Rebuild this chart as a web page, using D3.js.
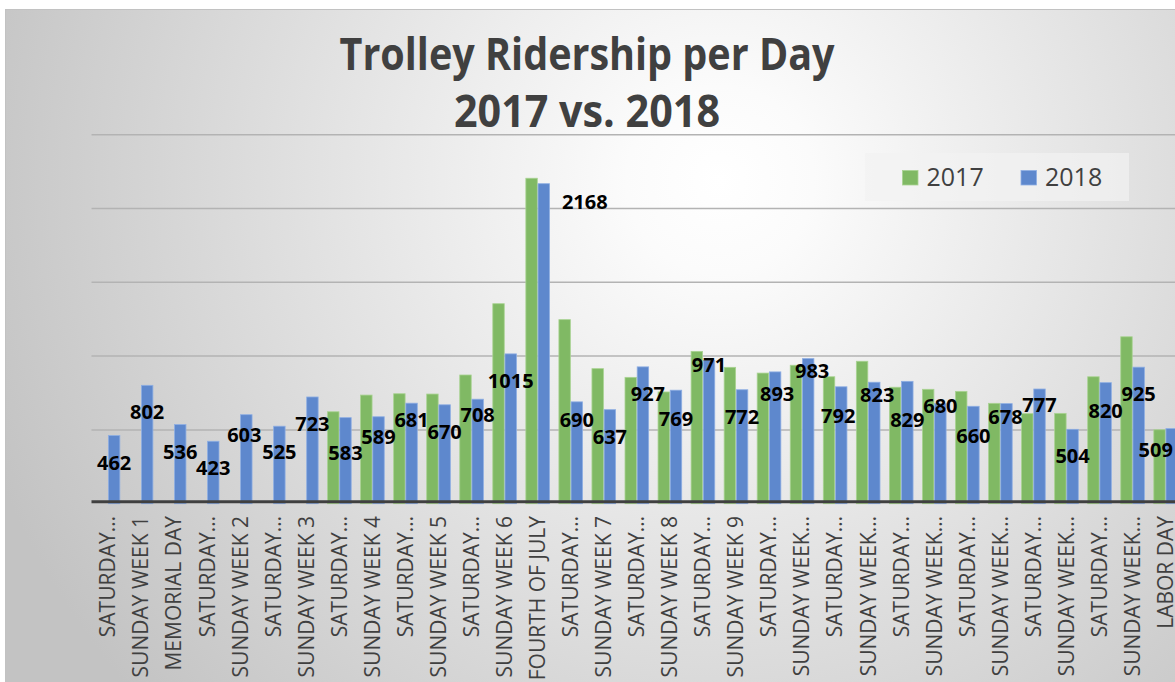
<!DOCTYPE html>
<html>
<head>
<meta charset="utf-8">
<script src="https://cdn.jsdelivr.net/npm/d3@7"></script>
<style>
  html, body { margin: 0; padding: 0; background: #fff; }
  svg { display: block; font-family: "Open Sans", sans-serif; }
</style>
</head>
<body>
<div id="chart"></div>
<script>
// Categories (as shown on the axis, truncated the way the original is)
const days = [
  "SATURDAY…", "SUNDAY WEEK 1", "MEMORIAL DAY", "SATURDAY…", "SUNDAY WEEK 2",
  "SATURDAY…", "SUNDAY WEEK 3", "SATURDAY…", "SUNDAY WEEK 4", "SATURDAY…",
  "SUNDAY WEEK 5", "SATURDAY…", "SUNDAY WEEK 6", "FOURTH OF JULY", "SATURDAY…",
  "SUNDAY WEEK 7", "SATURDAY…", "SUNDAY WEEK 8", "SATURDAY…", "SUNDAY WEEK 9",
  "SATURDAY…", "SUNDAY WEEK…", "SATURDAY…", "SUNDAY WEEK…", "SATURDAY…",
  "SUNDAY WEEK…", "SATURDAY…", "SUNDAY WEEK…", "SATURDAY…", "SUNDAY WEEK…",
  "SATURDAY…", "SUNDAY WEEK…", "LABOR DAY"
];

// 2017 riders (no bars for the first 7 days)
const riders2017 = [
  null, null, null, null, null, null, null, 623, 736, 745,
  743, 872, 1355, 2205, 1247, 915, 856, 757, 1032, 924,
  885, 938, 860, 965, 789, 775, 761, 680, 610, 612,
  860, 1131, 501
];

// 2018 riders (data labels)
const riders2018 = [
  462, 802, 536, 423, 603, 525, 723, 583, 589, 681,
  670, 708, 1015, 2168, 690, 637, 927, 769, 971, 772,
  893, 983, 792, 823, 829, 680, 660, 678, 777, 504,
  820, 925, 509
];

const seriesNames = ["2017", "2018"];
const yTicks = [500, 1000, 1500, 2000, 2500];

// label nudges (px) from the default spot under the top of the 2018 bar
const labelDx = [0, 0, 0, 0, -2, 0, 0, 0, 0, 0, 0, 0, 0, 41, 0, 0, 5, 0, 0, 0, 2, 4, -3, 3, 0, 0, 0, -1, 0, 0, 0, 0, -16];
const labelDy = [0, 0, 0, 0, -7, -1, 0, 8, -7, -10, 0, -11, 0, -9, -9, 0, 0, 2, -22, 0, -5, -15, 2, -14, 12, -24, 3, -14, -11, 0, 1, 0, -6];

const colors = { "2017": "#80b964", "2018": "#5e88cd" };
const strokes = { "2017": "#a9d392", "2018": "#8eaee3" };

const W = 1175, H = 682;
const plot = { left: 91.5, right: 91.5 + 33 * 33.05, top: 134.7, bottom: 503.7 };

const svg = d3.select("#chart").append("svg")
  .attr("width", W)
  .attr("height", H);

// background
const defs = svg.append("defs");
const grad = defs.append("radialGradient")
  .attr("id", "bg")
  .attr("gradientUnits", "userSpaceOnUse")
  .attr("cx", 720).attr("cy", 180).attr("r", 780);
grad.append("stop").attr("offset", "0").attr("stop-color", "#ffffff");
grad.append("stop").attr("offset", "0.12").attr("stop-color", "#fbfbfb");
grad.append("stop").attr("offset", "1").attr("stop-color", "#c3c3c3");

svg.append("rect")
  .attr("x", 5.5).attr("y", 9.5)
  .attr("width", W).attr("height", H)
  .attr("fill", "url(#bg)")
  .attr("stroke", "#c2c2c2")
  .attr("stroke-width", 1);

// scales
const x0 = d3.scaleBand().domain(d3.range(days.length)).range([plot.left, plot.right]).padding(0);
const x1 = d3.scaleBand().domain(seriesNames).range([4.7, 28.35]).paddingInner(0.06);
const y = d3.scaleLinear().domain([0, 2500]).range([plot.bottom, plot.top]);

// gridlines
svg.append("g")
  .selectAll("line")
  .data(yTicks)
  .join("line")
  .attr("x1", plot.left)
  .attr("x2", W)
  .attr("y1", (d) => y(d))
  .attr("y2", (d) => y(d))
  .attr("stroke", "#b3b3b3")
  .attr("stroke-width", 1.5);

// bars
const rows = days.map((d, i) => ({ i, day: d, "2017": riders2017[i], "2018": riders2018[i] }));

const groups = svg.append("g")
  .selectAll("g")
  .data(rows)
  .join("g")
  .attr("transform", (d) => `translate(${x0(d.i)},0)`);

groups.selectAll("rect")
  .data((d) => seriesNames.filter((s) => d[s] != null).map((s) => ({ s, v: d[s] })))
  .join("rect")
  .attr("x", (d) => x1(d.s))
  .attr("width", x1.bandwidth())
  .attr("y", (d) => y(d.v))
  .attr("height", (d) => y(0) - y(d.v))
  .attr("fill", (d) => colors[d.s])
  .attr("stroke", (d) => strokes[d.s])
  .attr("stroke-width", 0.8);

// x axis line
svg.append("line")
  .attr("x1", plot.left)
  .attr("x2", W)
  .attr("y1", plot.bottom - 2)
  .attr("y2", plot.bottom - 2)
  .attr("stroke", "#404040")
  .attr("stroke-width", 3);

// category labels
svg.append("g")
  .selectAll("text")
  .data(days)
  .join("text")
  .attr("transform", (d, i) => `translate(${x0(i) + x0.bandwidth() / 2},516) rotate(-90)`)
  .attr("dy", "0.35em")
  .attr("text-anchor", "end")
  .attr("font-size", "21px")
  .attr("fill", "#404040")
  .text((d) => d);

// data labels for 2018
svg.append("g")
  .selectAll("text")
  .data(riders2018)
  .join("text")
  .attr("x", (d, i) => x0(i) + x1("2018") + x1.bandwidth() / 2 + labelDx[i])
  .attr("y", (d, i) => y(d) + 27 + labelDy[i])
  .attr("dy", "0.35em")
  .attr("text-anchor", "middle")
  .attr("font-size", "20px")
  .attr("font-weight", "bold")
  .attr("fill", "#000")
  .text((d) => d);

// title
const titleLines = [
  { text: "Trolley Ridership per Day", y: 69.5, len: 495 },
  { text: "2017 vs. 2018", y: 127, len: 266 }
];
svg.append("g")
  .selectAll("text")
  .data(titleLines)
  .join("text")
  .attr("x", 587)
  .attr("y", (d) => d.y)
  .attr("text-anchor", "middle")
  .attr("font-size", "44px")
  .attr("font-weight", "bold")
  .attr("fill", "#404040")
  .attr("textLength", (d) => d.len)
  .attr("lengthAdjust", "spacingAndGlyphs")
  .text((d) => d.text);

// legend
const legend = svg.append("g");
legend.append("rect")
  .attr("x", 865).attr("y", 153)
  .attr("width", 264).attr("height", 48)
  .attr("fill", "#f2f2f2")
  .attr("fill-opacity", 0.7);

const legendX = [902.5, 1021];
const item = legend.selectAll("g")
  .data(seriesNames)
  .join("g")
  .attr("transform", (d, i) => `translate(${legendX[i]},170.5)`);
item.append("rect")
  .attr("width", 15.5).attr("height", 14.5)
  .attr("fill", (d) => colors[d])
  .attr("stroke", (d) => strokes[d])
  .attr("stroke-width", 0.8);
item.append("text")
  .attr("x", 24)
  .attr("y", 15.5)
  .attr("font-size", "25px")
  .attr("fill", "#404040")
  .text((d) => d);
</script>
</body>
</html>
